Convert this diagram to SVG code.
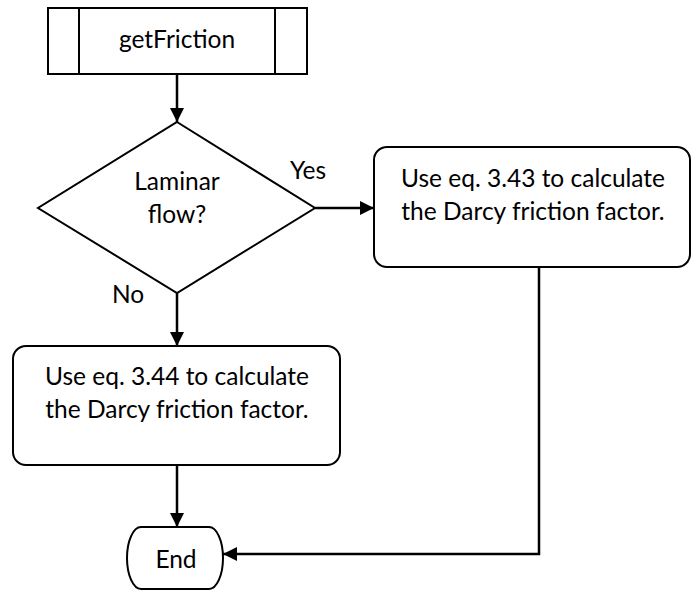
<svg xmlns="http://www.w3.org/2000/svg" width="691" height="592" viewBox="0 0 691 592">
  <style>
    .shape { fill: #fff; stroke: #000; stroke-width: 2; }
    .line { fill: none; stroke: #000; stroke-width: 2.5; }
    text { font-family: Lato, "Open Sans", "Liberation Sans", sans-serif; font-size: 24.5px; fill: #000; text-anchor: middle; }
    .lbl { text-anchor: start; }
  </style>
  <defs>
    <marker id="arrow" viewBox="0 0 14 14" refX="14" refY="7" markerWidth="14" markerHeight="14" markerUnits="userSpaceOnUse" orient="auto">
      <path d="M0,0 L14,7 L0,14 Z" fill="#000"/>
    </marker>
  </defs>

  <!-- connectors -->
  <g id="connectors">
    <path class="line" d="M177,74 V122" marker-end="url(#arrow)"/>
    <path class="line" d="M315,208 H374" marker-end="url(#arrow)"/>
    <path class="line" d="M177,293 V346" marker-end="url(#arrow)"/>
    <path class="line" d="M177,465 V527" marker-end="url(#arrow)"/>
    <path class="line" d="M539,267 V554 H223" marker-end="url(#arrow)"/>
    <text class="lbl" x="290" y="179">Yes</text>
    <text class="lbl" x="112" y="303">No</text>
  </g>

  <!-- predefined process: getFriction -->
  <g id="getFriction">
    <rect class="shape" x="48" y="8" width="259" height="66"/>
    <path class="shape" d="M79,8 V74 M275,8 V74"/>
    <text x="177" y="48">getFriction</text>
  </g>

  <!-- decision -->
  <g id="laminar">
    <polygon class="shape" points="177,122 315,208 177,293 38,208"/>
    <text x="177" y="190">Laminar</text>
    <text x="177" y="223">flow?</text>
  </g>

  <!-- laminar branch -->
  <g id="eq343">
    <rect class="shape" x="374" y="147" width="316" height="120" rx="13"/>
    <text x="533" y="187">Use eq. 3.43 to calculate</text>
    <text x="533" y="220">the Darcy friction factor.</text>
  </g>

  <!-- turbulent branch -->
  <g id="eq344">
    <rect class="shape" x="13" y="346" width="327" height="119" rx="13"/>
    <text x="177" y="385">Use eq. 3.44 to calculate</text>
    <text x="177" y="418">the Darcy friction factor.</text>
  </g>

  <!-- terminator -->
  <g id="end">
    <path class="shape" d="M141,527 H209 A14,31 0 0 1 209,589 H141 A14,31 0 0 1 141,527 Z"/>
    <text x="176" y="568">End</text>
  </g>
</svg>
